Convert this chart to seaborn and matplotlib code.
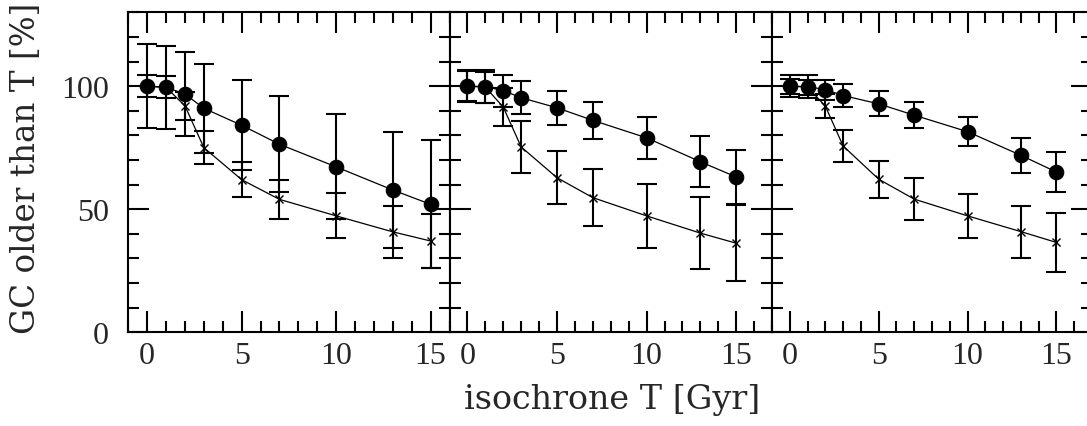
import numpy as np
import pandas as pd
import matplotlib
matplotlib.use("Agg")
import matplotlib.pyplot as plt
from matplotlib.ticker import MultipleLocator
import seaborn as sns

# ---- data ----
T = [0, 1, 2, 3, 5, 7, 10, 13, 15]

p1_circ = [100, 99.5, 96.8, 91.0, 84.1, 76.4, 67.2, 57.8, 52.0]
p1_circ_err = [17, 17, 17, 18, 18.2, 19.5, 21.3, 23.7, 26]
p1_cross = [100, 99.5, 92.0, 75.0, 62.0, 54.0, 47.3, 40.8, 37.1]
p1_cross_err = [4.4, 4.5, 5.8, 6.8, 7.1, 8.0, 9.1, 10.6, 11.0]

p2_circ = [100, 99.8, 98.2, 95.3, 91.2, 86.1, 79.0, 69.3, 63.1]
p2_circ_err = [6.5, 6.7, 6.5, 6.6, 7.0, 7.6, 8.4, 10.3, 11.0]
p2_cross = [100, 99.6, 91.5, 75.3, 62.8, 54.7, 47.3, 40.3, 36.2]
p2_cross_err = [6.0, 6.3, 7.7, 10.5, 10.8, 11.6, 13.0, 14.6, 15.5]

p3_circ = [100, 99.8, 98.6, 96.2, 92.8, 88.2, 81.5, 71.9, 65.1]
p3_circ_err = [4.4, 4.6, 4.1, 4.6, 5.1, 5.2, 6.0, 7.2, 8.1]
p3_cross = [100, 99.6, 91.9, 75.7, 62.2, 54.1, 47.3, 40.9, 36.5]
p3_cross_err = [3.0, 3.0, 5.0, 6.6, 7.5, 8.4, 8.8, 10.6, 12.0]

x_ticks = [0, 5, 10, 15]
y_ticks = [0, 50, 100]
x_label = "isochrone T [Gyr]"
y_label = "GC older than T [%]"

panels = [
    (p1_circ, p1_circ_err, p1_cross, p1_cross_err, (-1, 16)),
    (p2_circ, p2_circ_err, p2_cross, p2_cross_err, (-1, 17)),
    (p3_circ, p3_circ_err, p3_cross, p3_cross_err, (-1, 17)),
]

sns.set_style("ticks")
plt.rcParams["font.family"] = ["Liberation Serif", "DejaVu Serif"]
plt.rcParams["axes.linewidth"] = 1.5

fig = plt.figure(figsize=(10.87, 4.27), dpi=100)

W, H = 1087.0, 427.0
bottom = 1 - 333.3 / H
height = 320.0 / H
lefts = [128.3, 449.5, 772.0]
rights = [449.5, 772.0, 1092.0]

for i, (circ, circ_err, cross, cross_err, xl) in enumerate(panels):
    ax = fig.add_axes([lefts[i] / W, bottom, (rights[i] - lefts[i]) / W, height])
    df_c = pd.DataFrame({"T": T, "pct": circ})
    df_x = pd.DataFrame({"T": T, "pct": cross})

    ax.errorbar(T, circ, yerr=circ_err, fmt="none", ecolor="black",
                elinewidth=1.5, capsize=7, capthick=1.5, zorder=2)
    ax.errorbar(T, cross, yerr=cross_err, fmt="none", ecolor="black",
                elinewidth=1.5, capsize=7, capthick=1.5, zorder=2)
    sns.lineplot(data=df_x, x="T", y="pct", ax=ax, color="black", lw=0.9,
                 marker="x", markersize=6, markeredgewidth=1.0,
                 markeredgecolor="black", zorder=3)
    sns.lineplot(data=df_c, x="T", y="pct", ax=ax, color="black", lw=0.9,
                 marker="o", markersize=10.5, markeredgecolor="black",
                 markerfacecolor="black", zorder=4)

    ax.set_xlim(*xl)
    ax.set_ylim(0, 130)
    ax.set_xticks(x_ticks)
    ax.set_yticks(y_ticks)
    ax.xaxis.set_minor_locator(MultipleLocator(1))
    ax.yaxis.set_minor_locator(MultipleLocator(10))
    ax.tick_params(which="both", direction="in", top=True, right=True,
                   bottom=True, left=True, width=1.5, color="black")
    ax.tick_params(which="major", length=15)
    ax.tick_params(which="minor", length=8)
    ax.tick_params(axis="x", which="major", labelsize=23, pad=6)
    ax.tick_params(axis="y", which="major", labelsize=23, pad=14)
    ax.set_xlabel("")
    ax.set_ylabel("")
    if i > 0:
        ax.set_yticklabels([])
    for s in ax.spines.values():
        s.set_linewidth(1.5)
        s.set_color("black")

fig.text(612 / W, 1 - 400 / H, x_label, ha="center", va="center",
         fontsize=24, family=["DejaVu Serif"])
fig.text(26 / W, 1 - 168 / H, y_label, ha="center", va="center",
         rotation=90, fontsize=23.5, family=["DejaVu Serif"])

fig.savefig("out.png", dpi=100, facecolor="white")
